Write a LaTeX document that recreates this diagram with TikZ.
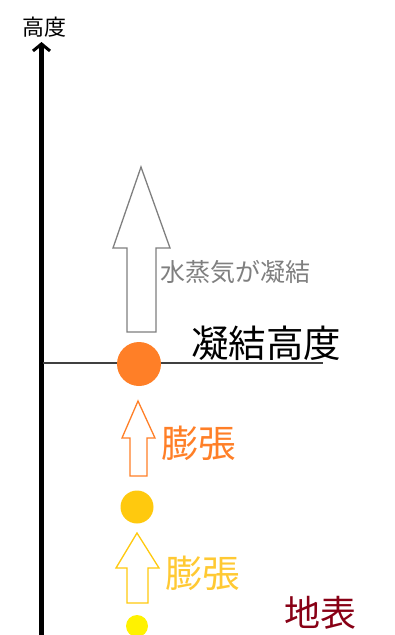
\documentclass[tikz,border=0pt]{standalone}
\usepackage{fontspec}
\setmainfont{Noto Sans CJK JP}
\usetikzlibrary{arrows.meta}
\definecolor{cOrange}{HTML}{FF7F27}
\definecolor{cGold}{HTML}{FFC90E}
\definecolor{cGoldTxt}{HTML}{FFC933}
\definecolor{cYellow}{HTML}{FFF200}
\definecolor{cDarkRed}{HTML}{880015}
\definecolor{cGray}{HTML}{7F7F7F}
\definecolor{cLine}{HTML}{404040}
\tikzset{
  ball/.style={circle, inner sep=0pt, draw=none},
  bigarrow/.style={fill=white, line width=1.3pt, line join=miter},
  lbl/.style={inner sep=0pt, anchor=west},
}
\begin{document}
\begin{tikzpicture}[x=1pt,y=-1pt]
\useasboundingbox (0,0) rectangle (395,635);
% axis
\coordinate (axbot) at (41.5,636);
\coordinate (axtop) at (41.5,42);
\draw[line width=4.5pt, -{Straight Barb[length=7pt,width=17pt,line width=3pt]}] (axbot) -- (axtop);
\node[inner sep=0pt, font=\fontsize{22}{22}\selectfont] (ylabel) at (44,27) {高度};
% condensation level line
\coordinate (lvlL) at (43,363);
\coordinate (lvlR) at (323,363);
\draw[cLine, line width=2pt] (lvlL) -- (lvlR);
\node[lbl, font=\fontsize{37.5}{37.5}\selectfont] (lvl) at (191,343) {凝結高度};
% gray big arrow
\draw[bigarrow, draw=cGray] (127,332) -- (127,248) -- (113,248) -- (141,167) -- (170,248) -- (156,248) -- (156,332) -- cycle;
\node[lbl, text=cGray, font=\fontsize{25}{25}\selectfont] (cond) at (160,272) {水蒸気が凝結};
% orange
\node[ball, fill=cOrange, minimum size=44pt] (b1) at (139,364) {};
\draw[bigarrow, draw=cOrange] (130,476) -- (130,438) -- (122,438) -- (138,401) -- (155,438) -- (147,438) -- (147,476) -- cycle;
\node[lbl, text=cOrange, font=\fontsize{37.5}{37.5}\selectfont] (exp1) at (161,443) {膨張};
% gold
\node[ball, fill=cGold, minimum size=33pt] (b2) at (137,507) {};
\draw[bigarrow, draw=cGold] (127,603) -- (127,568) -- (116,568) -- (137,533) -- (159,568) -- (148,568) -- (148,603) -- cycle;
\node[lbl, text=cGoldTxt, font=\fontsize{37.5}{37.5}\selectfont] (exp2) at (165,573) {膨張};
% yellow
\node[ball, fill=cYellow, minimum size=22pt] (b3) at (137,626) {};
% ground
\node[lbl, text=cDarkRed, font=\fontsize{36}{36}\selectfont] (gnd) at (284,613) {地表};
\end{tikzpicture}
\end{document}
